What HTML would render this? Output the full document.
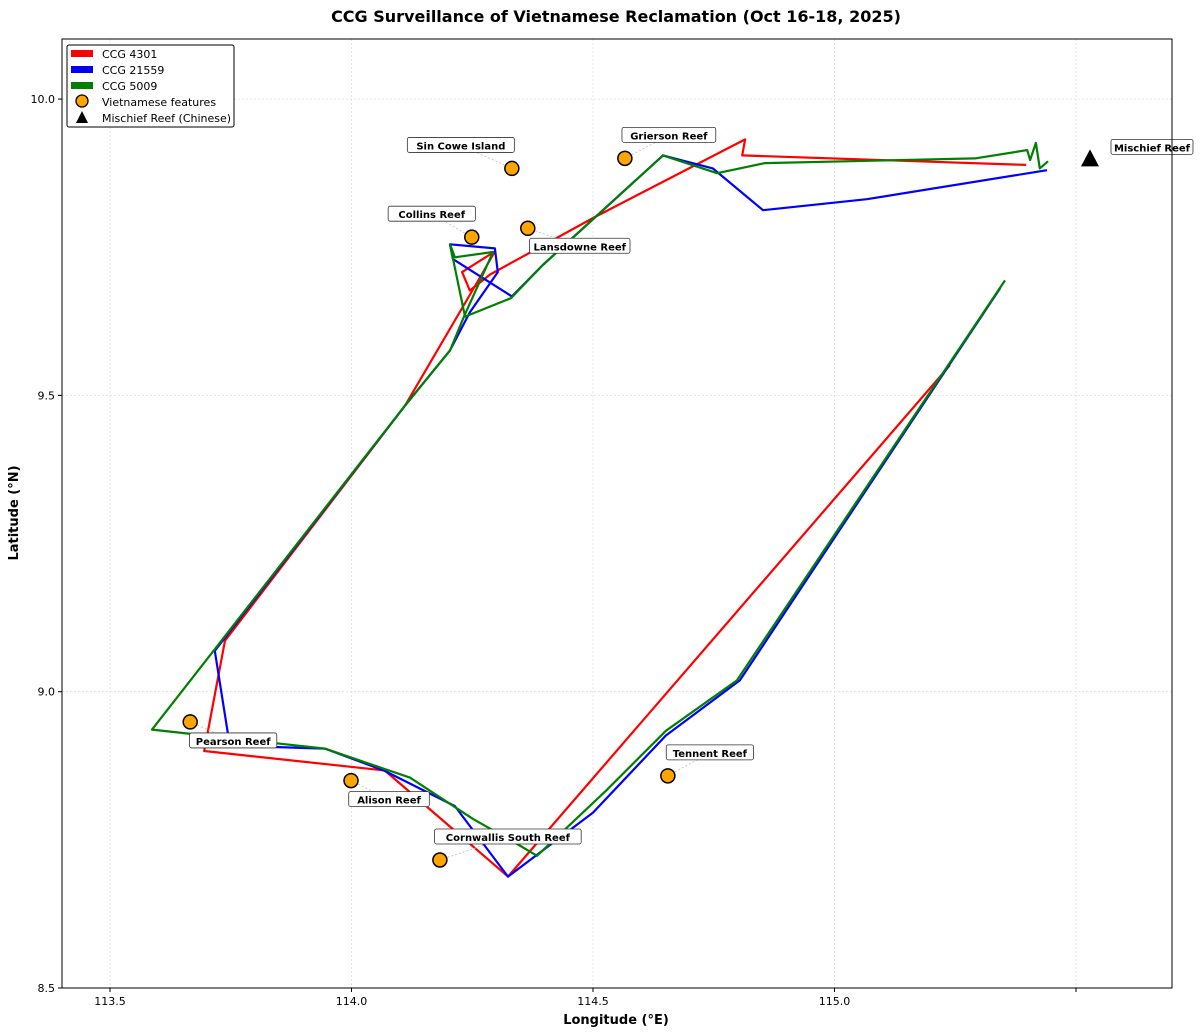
<!DOCTYPE html>
<html><head><meta charset="utf-8"><style>
html,body{margin:0;padding:0;background:#fff;}
svg{display:block;font-family:"DejaVu Sans","Liberation Sans",sans-serif;}
</style></head><body>
<svg id="chart" width="1200" height="1035" viewBox="0 0 1200 1035">
<text x="616" y="22" text-anchor="middle" font-size="16" font-weight="bold">CCG Surveillance of Vietnamese Reclamation (Oct 16-18, 2025)</text>
<g id="grid"></g>
<g id="tracks"></g>
<g id="features"></g>
<rect x="62" y="39" width="1110" height="949" fill="none" stroke="#000" stroke-width="1"/>
<g id="axes"></g>
<text x="616" y="1024" text-anchor="middle" font-size="13" font-weight="bold">Longitude (°E)</text>
<text transform="translate(18,513) rotate(-90)" text-anchor="middle" font-size="13" font-weight="bold">Latitude (°N)</text>
<g>
<rect x="67" y="45" width="167" height="82" rx="2" fill="#fff" stroke="#000" stroke-width="1"/>
<rect x="71" y="50" width="22" height="7" fill="#ff0000"/>
<text x="102" y="58" font-size="11">CCG 4301</text>
<rect x="71" y="66" width="22" height="7" fill="#0000ff"/>
<text x="102" y="74" font-size="11">CCG 21559</text>
<rect x="71" y="82" width="22" height="7" fill="#008000"/>
<text x="102" y="90" font-size="11">CCG 5009</text>
<circle cx="82" cy="101" r="6" fill="#ffa500" stroke="#000" stroke-width="1.3"/>
<text x="102" y="106" font-size="11">Vietnamese features</text>
<polygon points="82,111 88,123 76,123" fill="#000"/>
<text x="102" y="122" font-size="11">Mischief Reef (Chinese)</text>
</g>
</svg>
<script>
const xTicks=[113.5,114.0,114.5,115.0,115.5];
const xTickLabels=["113.5","114.0","114.5","115.0",""];
const yTicks=[8.5,9.0,9.5,10.0];
const yTickLabels=["8.5","9.0","9.5","10.0"];
const redLon=[115.239,114.324,114.069,113.695,113.738,114.111,114.266,114.297,114.229,114.245,114.287,114.504,114.815,114.809,115.397];
const redLat=[9.551,8.688,8.867,8.900,9.086,9.483,9.699,9.743,9.708,9.677,9.704,9.801,9.932,9.905,9.889];
const blueLon=[115.343,114.804,114.651,114.500,114.324,114.214,114.067,113.945,113.748,113.717,114.111,114.204,114.245,114.303,114.297,114.204,114.210,114.332,114.396,114.645,114.748,114.852,115.067,115.440];
const blueLat=[9.681,9.019,8.926,8.796,8.688,8.807,8.867,8.904,8.909,9.069,9.483,9.576,9.640,9.708,9.748,9.755,9.730,9.667,9.720,9.905,9.883,9.8125,9.831,9.880];
const greenLon=[115.353,114.798,114.651,114.527,114.384,114.343,114.252,114.121,113.945,113.587,114.111,114.204,114.233,114.293,114.214,114.204,114.235,114.330,114.396,114.645,114.757,114.856,115.291,115.399,115.405,115.417,115.425,115.442];
const greenLat=[9.694,9.019,8.934,8.833,8.723,8.743,8.785,8.855,8.904,8.936,9.483,9.576,9.633,9.742,9.733,9.755,9.633,9.664,9.720,9.905,9.875,9.892,9.900,9.914,9.897,9.926,9.883,9.895];
const featNames=["Sin Cowe Island","Collins Reef","Lansdowne Reef","Grierson Reef","Pearson Reef","Alison Reef","Cornwallis South Reef","Tennent Reef"];
const featLon=[114.332,114.249,114.365,114.566,113.666,113.999,114.183,114.655];
const featLat=[9.883,9.767,9.782,9.900,8.949,8.850,8.716,8.858];
const mischiefLon=[115.529];
const mischiefLat=[9.900];
// label offsets (px) — layout only
const labOff=[[-51,-23],[-40,-23],[52,18],[44,-23],[43,19],[38,19],[68,-23],[42,-23]];

const X0=62,X1=1172,Y0=39,Y1=988,LON0=113.4006,LON1=115.6988,LAT0=8.5,LAT1=10.1014;
const sx=v=>X0+(v-LON0)/(LON1-LON0)*(X1-X0);
const sy=v=>Y1-(v-LAT0)/(LAT1-LAT0)*(Y1-Y0);
const NS="http://www.w3.org/2000/svg";
function mk(tag,attrs,parent){const e=document.createElementNS(NS,tag);for(const k in attrs)e.setAttribute(k,attrs[k]);parent.appendChild(e);return e;}
const grid=document.getElementById('grid'),axes=document.getElementById('axes');
xTicks.forEach((t,i)=>{
  const gl=mk('line',{x1:sx(t),x2:sx(t),y1:Y0,y2:Y1,stroke:'#ddd','stroke-dasharray':'2,2','stroke-width':0.8},grid);
  
  
  const tk=mk('line',{x1:sx(t),x2:sx(t),y1:Y1,y2:Y1+4,stroke:'#000'},axes);
  
  
  const tl=mk('text',{x:sx(t),y:Y1+17,'text-anchor':'middle','font-size':11},axes);
  tl.textContent=xTickLabels[i];
  
  
});
yTicks.forEach((t,i)=>{
  const gl=mk('line',{x1:X0,x2:X1,y1:sy(t),y2:sy(t),stroke:'#ddd','stroke-dasharray':'2,2','stroke-width':0.8},grid);
  
  
  const tk=mk('line',{x1:X0-4,x2:X0,y1:sy(t),y2:sy(t),stroke:'#000'},axes);
  
  
  const tl=mk('text',{x:X0-7,y:sy(t)+4,'text-anchor':'end','font-size':11},axes);
  tl.textContent=yTickLabels[i];
  
  
});
const tracks=document.getElementById('tracks');
function track(lon,lat,color,name){
  const pts=lon.map((v,i)=>sx(v).toFixed(1)+','+sy(lat[i]).toFixed(1)).join(' ');
  const p=mk('polyline',{points:pts,fill:'none',stroke:color,'stroke-width':2.2,'stroke-linejoin':'round'},tracks);
  
  
}
track(redLon,redLat,'#ff0000','track-ccg-4301');
track(blueLon,blueLat,'#0000ff','track-ccg-21559');
track(greenLon,greenLat,'#008000','track-ccg-5009');
const feats=document.getElementById('features');
featNames.forEach((n,i)=>{
  const cx=sx(featLon[i]),cy=sy(featLat[i]);
  const lx=cx+labOff[i][0],ly=cy+labOff[i][1];
  const cl=mk('line',{x1:cx,y1:cy,x2:lx,y2:ly,stroke:'#bbb','stroke-dasharray':'2,2','stroke-width':0.8},feats);
  
  
  const c=mk('circle',{cx:cx,cy:cy,r:7,fill:'#ffa500',stroke:'#000','stroke-width':1.5},feats);
  
  
  const w=n.length*6.6+8;
  const r=mk('rect',{x:lx-w/2,y:ly-8,width:w,height:15,rx:2,fill:'#fff',stroke:'#333','stroke-width':0.8},feats);
  
  
  const t=mk('text',{x:lx,y:ly+4,'text-anchor':'middle','font-size':10,'font-weight':'bold'},feats);
  t.textContent=n;
  
  
});
const mx=sx(mischiefLon[0]),my=sy(mischiefLat[0]);
const tri=mk('polygon',{points:`${mx},${my-9} ${mx+9},${my+8} ${mx-9},${my+8}`,fill:'#000'},feats);


const mw=82;
const mr=mk('rect',{x:mx+62-mw/2,y:my-19,width:mw,height:15,rx:2,fill:'#fff',stroke:'#333','stroke-width':0.8},feats);


const mt=mk('text',{x:mx+62,y:my-7,'text-anchor':'middle','font-size':10,'font-weight':'bold'},feats);
mt.textContent='Mischief Reef';


</script>
</body></html>
